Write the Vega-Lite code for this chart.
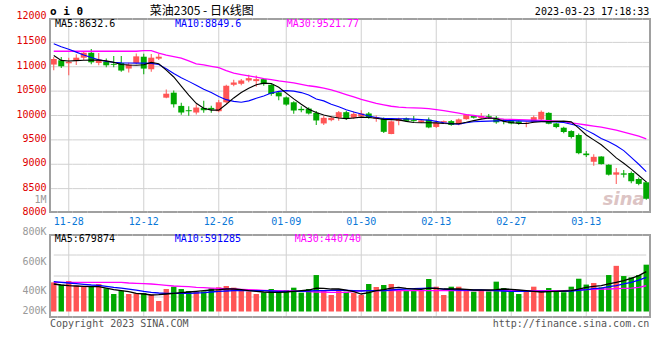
{
"$schema":"https://vega.github.io/schema/vega-lite/v6.json",
"width":600,"height":300,
"autosize":{"type":"none"},
"padding":{"left":50,"top":18,"right":10,"bottom":42},
"background":"white",
"config":{"view":{"stroke":null}},
"data":{"name":"k"},
"datasets":{"k":[
{"d":"2022-11-24","o":11045,"h":11201,"l":10929,"c":11159,"v":498000,"m5":11230,"m10":11470,"m30":11318,"vm5":470000,"vm10":510000,"vm30":498000},
{"d":"2022-11-25","o":11132,"h":11200,"l":10976,"c":11010,"v":458000,"m5":11130,"m10":11410,"m30":11318,"vm5":453000,"vm10":498000,"vm30":498000},
{"d":"2022-11-28","o":11071,"h":11186,"l":10827,"c":11104,"v":521000,"m5":11118,"m10":11360,"m30":11318,"vm5":441000,"vm10":487000,"vm30":498000},
{"d":"2022-11-29","o":11119,"h":11254,"l":11037,"c":11186,"v":441000,"m5":11125,"m10":11300,"m30":11318,"vm5":436000,"vm10":475000,"vm30":498000},
{"d":"2022-11-30","o":11185,"h":11315,"l":11140,"c":11287,"v":424000,"m5":11132,"m10":11240,"m30":11318,"vm5":430000,"vm10":464000,"vm30":498000},
{"d":"2022-12-01","o":11287,"h":11362,"l":11050,"c":11091,"v":436000,"m5":11135,"m10":11190,"m30":11318,"vm5":424000,"vm10":453000,"vm30":498000},
{"d":"2022-12-02","o":11078,"h":11281,"l":11030,"c":11146,"v":470000,"m5":11135,"m10":11145,"m30":11318,"vm5":424000,"vm10":447000,"vm30":498000},
{"d":"2022-12-05","o":11104,"h":11170,"l":10990,"c":11030,"v":396000,"m5":11120,"m10":11110,"m30":11318,"vm5":401000,"vm10":430000,"vm30":498000},
{"d":"2022-12-06","o":11058,"h":11220,"l":10990,"c":11040,"v":299000,"m5":11090,"m10":11091,"m30":11318,"vm5":373000,"vm10":413000,"vm30":498000},
{"d":"2022-12-07","o":11078,"h":11220,"l":10900,"c":10922,"v":356000,"m5":11045,"m10":11080,"m30":11318,"vm5":356000,"vm10":401000,"vm30":498000},
{"d":"2022-12-08","o":10963,"h":11080,"l":10881,"c":11045,"v":299000,"m5":11035,"m10":11077,"m30":11318,"vm5":339000,"vm10":384000,"vm30":487000},
{"d":"2022-12-09","o":11078,"h":11270,"l":11050,"c":11213,"v":310000,"m5":11030,"m10":11075,"m30":11318,"vm5":310000,"vm10":367000,"vm30":481000},
{"d":"2022-12-12","o":11206,"h":11267,"l":10847,"c":10962,"v":316000,"m5":11040,"m10":11075,"m30":11330,"vm5":299000,"vm10":344000,"vm30":475000},
{"d":"2022-12-13","o":10949,"h":11260,"l":10900,"c":11186,"v":288000,"m5":11090,"m10":11070,"m30":11330,"vm5":282000,"vm10":327000,"vm30":470000},
{"d":"2022-12-14","o":11166,"h":11267,"l":11140,"c":11206,"v":179000,"m5":11060,"m10":11045,"m30":11281,"vm5":288000,"vm10":316000,"vm30":458000},
{"d":"2022-12-15","o":10366,"h":10535,"l":10352,"c":10447,"v":384000,"m5":10930,"m10":10960,"m30":11240,"vm5":299000,"vm10":310000,"vm30":447000},
{"d":"2022-12-16","o":10468,"h":10514,"l":10163,"c":10230,"v":424000,"m5":10790,"m10":10860,"m30":11210,"vm5":310000,"vm10":310000,"vm30":436000},
{"d":"2022-12-19","o":10197,"h":10264,"l":10014,"c":10061,"v":384000,"m5":10604,"m10":10773,"m30":11179,"vm5":322000,"vm10":310000,"vm30":430000},
{"d":"2022-12-20","o":10108,"h":10190,"l":9994,"c":10088,"v":350000,"m5":10420,"m10":10700,"m30":11120,"vm5":333000,"vm10":310000,"vm30":424000},
{"d":"2022-12-21","o":10061,"h":10230,"l":10020,"c":10163,"v":339000,"m5":10250,"m10":10620,"m30":11060,"vm5":344000,"vm10":316000,"vm30":413000},
{"d":"2022-12-22","o":10156,"h":10305,"l":10054,"c":10108,"v":344000,"m5":10150,"m10":10540,"m30":11040,"vm5":356000,"vm10":322000,"vm30":407000},
{"d":"2022-12-23","o":10156,"h":10200,"l":10054,"c":10122,"v":396000,"m5":10110,"m10":10470,"m30":11010,"vm5":367000,"vm10":333000,"vm30":401000},
{"d":"2022-12-26","o":10088,"h":10320,"l":10068,"c":10271,"v":413000,"m5":10110,"m10":10390,"m30":10980,"vm5":373000,"vm10":344000,"vm30":396000},
{"d":"2022-12-27","o":10271,"h":10630,"l":10250,"c":10610,"v":436000,"m5":10230,"m10":10325,"m30":10920,"vm5":384000,"vm10":350000,"vm30":390000},
{"d":"2022-12-28","o":10630,"h":10732,"l":10600,"c":10677,"v":407000,"m5":10360,"m10":10290,"m30":10870,"vm5":384000,"vm10":356000,"vm30":384000},
{"d":"2022-12-29","o":10651,"h":10750,"l":10620,"c":10718,"v":356000,"m5":10470,"m10":10271,"m30":10840,"vm5":373000,"vm10":356000,"vm30":379000},
{"d":"2022-12-30","o":10718,"h":10834,"l":10680,"c":10766,"v":344000,"m5":10560,"m10":10300,"m30":10813,"vm5":356000,"vm10":356000,"vm30":373000},
{"d":"2023-01-03","o":10705,"h":10820,"l":10590,"c":10746,"v":299000,"m5":10630,"m10":10352,"m30":10785,"vm5":344000,"vm10":356000,"vm30":367000},
{"d":"2023-01-04","o":10746,"h":10760,"l":10610,"c":10644,"v":327000,"m5":10664,"m10":10400,"m30":10755,"vm5":333000,"vm10":356000,"vm30":362000},
{"d":"2023-01-05","o":10630,"h":10650,"l":10407,"c":10441,"v":384000,"m5":10655,"m10":10460,"m30":10735,"vm5":327000,"vm10":350000,"vm30":356000},
{"d":"2023-01-06","o":10474,"h":10500,"l":10311,"c":10393,"v":344000,"m5":10580,"m10":10495,"m30":10710,"vm5":327000,"vm10":344000,"vm30":356000},
{"d":"2023-01-09","o":10372,"h":10390,"l":10200,"c":10224,"v":367000,"m5":10460,"m10":10510,"m30":10690,"vm5":333000,"vm10":344000,"vm30":350000},
{"d":"2023-01-10","o":10271,"h":10290,"l":10034,"c":10102,"v":407000,"m5":10340,"m10":10500,"m30":10670,"vm5":344000,"vm10":344000,"vm30":350000},
{"d":"2023-01-11","o":10136,"h":10190,"l":10068,"c":10108,"v":322000,"m5":10230,"m10":10470,"m30":10640,"vm5":356000,"vm10":344000,"vm30":344000},
{"d":"2023-01-12","o":10142,"h":10170,"l":10020,"c":10041,"v":384000,"m5":10130,"m10":10420,"m30":10610,"vm5":367000,"vm10":350000,"vm30":339000},
{"d":"2023-01-13","o":10054,"h":10090,"l":9803,"c":9898,"v":623000,"m5":10060,"m10":10340,"m30":10590,"vm5":401000,"vm10":356000,"vm30":333000},
{"d":"2023-01-16","o":9837,"h":9990,"l":9803,"c":9952,"v":356000,"m5":10010,"m10":10300,"m30":10563,"vm5":396000,"vm10":356000,"vm30":333000},
{"d":"2023-01-17","o":9905,"h":9990,"l":9880,"c":9952,"v":282000,"m5":9975,"m10":10230,"m30":10525,"vm5":384000,"vm10":362000,"vm30":327000},
{"d":"2023-01-18","o":9952,"h":10090,"l":9890,"c":10068,"v":356000,"m5":9950,"m10":10180,"m30":10480,"vm5":384000,"vm10":367000,"vm30":327000},
{"d":"2023-01-19","o":10068,"h":10100,"l":9910,"c":9932,"v":339000,"m5":9935,"m10":10120,"m30":10430,"vm5":367000,"vm10":362000,"vm30":327000},
{"d":"2023-01-20","o":9953,"h":10080,"l":9930,"c":10034,"v":316000,"m5":9950,"m10":10070,"m30":10380,"vm5":339000,"vm10":356000,"vm30":339000},
{"d":"2023-01-30","o":9980,"h":10108,"l":9950,"c":10041,"v":282000,"m5":9966,"m10":10030,"m30":10330,"vm5":299000,"vm10":350000,"vm30":356000},
{"d":"2023-01-31","o":10041,"h":10070,"l":9935,"c":9953,"v":470000,"m5":9960,"m10":9990,"m30":10290,"vm5":322000,"vm10":356000,"vm30":356000},
{"d":"2023-02-01","o":9932,"h":10000,"l":9870,"c":9966,"v":419000,"m5":9945,"m10":9960,"m30":10250,"vm5":356000,"vm10":356000,"vm30":356000},
{"d":"2023-02-02","o":9940,"h":9960,"l":9640,"c":9665,"v":453000,"m5":9920,"m10":9940,"m30":10220,"vm5":373000,"vm10":356000,"vm30":356000},
{"d":"2023-02-03","o":9620,"h":9895,"l":9615,"c":9880,"v":470000,"m5":9915,"m10":9935,"m30":10190,"vm5":401000,"vm10":367000,"vm30":356000},
{"d":"2023-02-06","o":9885,"h":9955,"l":9800,"c":9932,"v":384000,"m5":9910,"m10":9932,"m30":10170,"vm5":413000,"vm10":379000,"vm30":356000},
{"d":"2023-02-07","o":9940,"h":9960,"l":9870,"c":9890,"v":367000,"m5":9880,"m10":9930,"m30":10160,"vm5":396000,"vm10":384000,"vm30":356000},
{"d":"2023-02-08","o":9905,"h":9990,"l":9870,"c":9885,"v":367000,"m5":9855,"m10":9925,"m30":10156,"vm5":384000,"vm10":390000,"vm30":356000},
{"d":"2023-02-09","o":9860,"h":9920,"l":9845,"c":9900,"v":356000,"m5":9851,"m10":9915,"m30":10150,"vm5":379000,"vm10":396000,"vm30":356000},
{"d":"2023-02-10","o":9915,"h":9960,"l":9740,"c":9755,"v":555000,"m5":9851,"m10":9905,"m30":10140,"vm5":401000,"vm10":401000,"vm30":356000},
{"d":"2023-02-13","o":9765,"h":9900,"l":9745,"c":9850,"v":424000,"m5":9848,"m10":9880,"m30":10120,"vm5":396000,"vm10":396000,"vm30":356000},
{"d":"2023-02-14","o":9855,"h":9900,"l":9840,"c":9885,"v":282000,"m5":9835,"m10":9850,"m30":10100,"vm5":384000,"vm10":384000,"vm30":356000},
{"d":"2023-02-15","o":9885,"h":9910,"l":9790,"c":9805,"v":424000,"m5":9831,"m10":9830,"m30":10075,"vm5":384000,"vm10":373000,"vm30":356000},
{"d":"2023-02-16","o":9820,"h":9940,"l":9800,"c":9920,"v":424000,"m5":9831,"m10":9820,"m30":10050,"vm5":384000,"vm10":367000,"vm30":356000},
{"d":"2023-02-17","o":9925,"h":10030,"l":9915,"c":10020,"v":367000,"m5":9860,"m10":9850,"m30":10020,"vm5":379000,"vm10":367000,"vm30":356000},
{"d":"2023-02-20","o":9990,"h":10000,"l":9940,"c":9955,"v":339000,"m5":9895,"m10":9871,"m30":10000,"vm5":367000,"vm10":367000,"vm30":356000},
{"d":"2023-02-21","o":9945,"h":10050,"l":9930,"c":9990,"v":356000,"m5":9925,"m10":9880,"m30":9975,"vm5":367000,"vm10":367000,"vm30":356000},
{"d":"2023-02-22","o":9985,"h":10030,"l":9930,"c":9950,"v":344000,"m5":9950,"m10":9885,"m30":9953,"vm5":367000,"vm10":362000,"vm30":356000},
{"d":"2023-02-23","o":9955,"h":9990,"l":9830,"c":9860,"v":510000,"m5":9940,"m10":9890,"m30":9935,"vm5":373000,"vm10":356000,"vm30":356000},
{"d":"2023-02-24","o":9920,"h":9930,"l":9820,"c":9890,"v":401000,"m5":9880,"m10":9895,"m30":9925,"vm5":384000,"vm10":350000,"vm30":356000},
{"d":"2023-02-27","o":9890,"h":9910,"l":9820,"c":9835,"v":384000,"m5":9855,"m10":9895,"m30":9920,"vm5":379000,"vm10":344000,"vm30":356000},
{"d":"2023-02-28","o":9880,"h":9895,"l":9810,"c":9840,"v":299000,"m5":9835,"m10":9890,"m30":9915,"vm5":367000,"vm10":344000,"vm30":356000},
{"d":"2023-03-01","o":9825,"h":9870,"l":9760,"c":9850,"v":367000,"m5":9835,"m10":9885,"m30":9910,"vm5":356000,"vm10":344000,"vm30":356000},
{"d":"2023-03-02","o":9864,"h":10000,"l":9850,"c":9966,"v":424000,"m5":9860,"m10":9885,"m30":9905,"vm5":344000,"vm10":344000,"vm30":356000},
{"d":"2023-03-03","o":9919,"h":10105,"l":9905,"c":10075,"v":356000,"m5":9871,"m10":9880,"m30":9900,"vm5":333000,"vm10":344000,"vm30":356000},
{"d":"2023-03-06","o":10054,"h":10065,"l":9820,"c":9830,"v":401000,"m5":9875,"m10":9875,"m30":9895,"vm5":339000,"vm10":344000,"vm30":356000},
{"d":"2023-03-07","o":9837,"h":9850,"l":9740,"c":9763,"v":344000,"m5":9880,"m10":9870,"m30":9885,"vm5":344000,"vm10":344000,"vm30":356000},
{"d":"2023-03-08","o":9749,"h":9770,"l":9635,"c":9661,"v":327000,"m5":9885,"m10":9855,"m30":9871,"vm5":350000,"vm10":344000,"vm30":356000},
{"d":"2023-03-09","o":9681,"h":9695,"l":9530,"c":9559,"v":424000,"m5":9870,"m10":9820,"m30":9850,"vm5":356000,"vm10":350000,"vm30":362000},
{"d":"2023-03-10","o":9600,"h":9630,"l":9205,"c":9227,"v":560000,"m5":9740,"m10":9785,"m30":9830,"vm5":384000,"vm10":362000,"vm30":367000},
{"d":"2023-03-13","o":9220,"h":9270,"l":9150,"c":9186,"v":460000,"m5":9600,"m10":9700,"m30":9805,"vm5":413000,"vm10":373000,"vm30":373000},
{"d":"2023-03-14","o":9051,"h":9207,"l":8969,"c":9152,"v":487000,"m5":9500,"m10":9620,"m30":9783,"vm5":430000,"vm10":390000,"vm30":379000},
{"d":"2023-03-15","o":9159,"h":9165,"l":8995,"c":9003,"v":413000,"m5":9400,"m10":9530,"m30":9760,"vm5":441000,"vm10":401000,"vm30":384000},
{"d":"2023-03-16","o":8990,"h":9000,"l":8770,"c":8786,"v":623000,"m5":9270,"m10":9460,"m30":9730,"vm5":470000,"vm10":424000,"vm30":384000},
{"d":"2023-03-17","o":8786,"h":8922,"l":8597,"c":8834,"v":780000,"m5":9130,"m10":9380,"m30":9700,"vm5":498000,"vm10":441000,"vm30":390000},
{"d":"2023-03-20","o":8813,"h":8880,"l":8730,"c":8786,"v":606000,"m5":9020,"m10":9280,"m30":9660,"vm5":527000,"vm10":470000,"vm30":396000},
{"d":"2023-03-21","o":8820,"h":8850,"l":8610,"c":8651,"v":584000,"m5":8900,"m10":9140,"m30":9620,"vm5":567000,"vm10":498000,"vm30":401000},
{"d":"2023-03-22","o":8698,"h":8730,"l":8570,"c":8597,"v":623000,"m5":8770,"m10":9000,"m30":9575,"vm5":612000,"vm10":538000,"vm30":413000},
{"d":"2023-03-23","o":8630,"h":8650,"l":8270,"c":8292,"v":800000,"m5":8640,"m10":8850,"m30":9522,"vm5":680000,"vm10":584000,"vm30":440000}
]},
"resolve":{"scale":{"y":"independent"},"axis":{"x":"independent","y":"independent"}},
"layer":[
{"data":{"values":[{"t":"sina"}]},
 "mark":{"type":"text","font":"DejaVu Sans","fontSize":18,"fontStyle":"italic","fontWeight":"bold","color":"#dcc4c4","align":"center","baseline":"middle"},
 "encoding":{"text":{"field":"t"},"x":{"datum":"2023-03-20","type":"ordinal","axis":null},
  "y":{"datum":8267,"type":"quantitative","scale":{"domain":[8000,12000],"range":[195,0],"nice":false,"zero":false},"axis":null}}},
{"mark":{"type":"bar","color":"#d0d0d0","width":{"band":1}},"encoding":{"x":{"field":"d","type":"ordinal","axis":null},"y":{"datum":8490,"type":"quantitative","scale":{"domain":[8000,12000],"range":[195,0],"nice":false,"zero":false},"axis":null},"y2":{"datum":8510}}},
{"mark":{"type":"bar","color":"#d0d0d0","width":{"band":1}},"encoding":{"x":{"field":"d","type":"ordinal","axis":null},"y":{"datum":8990,"type":"quantitative","scale":{"domain":[8000,12000],"range":[195,0],"nice":false,"zero":false},"axis":null},"y2":{"datum":9010}}},
{"mark":{"type":"bar","color":"#d0d0d0","width":{"band":1}},"encoding":{"x":{"field":"d","type":"ordinal","axis":null},"y":{"datum":9490,"type":"quantitative","scale":{"domain":[8000,12000],"range":[195,0],"nice":false,"zero":false},"axis":null},"y2":{"datum":9510}}},
{"mark":{"type":"bar","color":"#d0d0d0","width":{"band":1}},"encoding":{"x":{"field":"d","type":"ordinal","axis":null},"y":{"datum":9990,"type":"quantitative","scale":{"domain":[8000,12000],"range":[195,0],"nice":false,"zero":false},"axis":null},"y2":{"datum":10010}}},
{"mark":{"type":"bar","color":"#d0d0d0","width":{"band":1}},"encoding":{"x":{"field":"d","type":"ordinal","axis":null},"y":{"datum":10490,"type":"quantitative","scale":{"domain":[8000,12000],"range":[195,0],"nice":false,"zero":false},"axis":null},"y2":{"datum":10510}}},
{"mark":{"type":"bar","color":"#d0d0d0","width":{"band":1}},"encoding":{"x":{"field":"d","type":"ordinal","axis":null},"y":{"datum":10990,"type":"quantitative","scale":{"domain":[8000,12000],"range":[195,0],"nice":false,"zero":false},"axis":null},"y2":{"datum":11010}}},
{"mark":{"type":"bar","color":"#d0d0d0","width":{"band":1}},"encoding":{"x":{"field":"d","type":"ordinal","axis":null},"y":{"datum":11490,"type":"quantitative","scale":{"domain":[8000,12000],"range":[195,0],"nice":false,"zero":false},"axis":null},"y2":{"datum":11510}}},
{"mark":{"type":"line","color":"#d0d0d0","strokeWidth":1},"encoding":{"x":{"field":"d","type":"ordinal","axis":null},"y":{"datum":965250,"type":"quantitative","scale":{"domain":[-111000,1324000],"range":[300,216],"nice":false,"zero":false},"axis":null}}},
{"mark":{"type":"line","color":"#d0d0d0","strokeWidth":1},"encoding":{"x":{"field":"d","type":"ordinal","axis":null},"y":{"datum":606500,"type":"quantitative","scale":{"domain":[-111000,1324000],"range":[300,216],"nice":false,"zero":false},"axis":null}}},
{"mark":{"type":"line","color":"#d0d0d0","strokeWidth":1},"encoding":{"x":{"field":"d","type":"ordinal","axis":null},"y":{"datum":247750,"type":"quantitative","scale":{"domain":[-111000,1324000],"range":[300,216],"nice":false,"zero":false},"axis":null}}},
{"transform":[{"filter":{"field":"d","oneOf":["2022-11-28","2022-12-12","2022-12-26","2023-01-09","2023-01-30","2023-02-13","2023-02-27","2023-03-13"]}}],
 "mark":{"type":"bar","color":"#d0d0d0","width":1},
 "encoding":{"x":{"field":"d","type":"ordinal","axis":null},"y":{"datum":8000,"type":"quantitative","scale":{"domain":[8000,12000],"range":[195,0],"nice":false,"zero":false},"axis":null},"y2":{"datum":12000}}},
{"transform":[{"filter":{"field":"d","oneOf":["2022-11-28","2022-12-12","2022-12-26","2023-01-09","2023-01-30","2023-02-13","2023-02-27","2023-03-13"]}}],
 "mark":{"type":"bar","color":"#d0d0d0","width":1},
 "encoding":{"x":{"field":"d","type":"ordinal","axis":null},"y":{"datum":-111000,"type":"quantitative","scale":{"domain":[-111000,1324000],"range":[300,216],"nice":false,"zero":false},"axis":null},"y2":{"datum":1324000}}},
{"mark":{"type":"bar","width":1},
 "encoding":{
  "x":{"field":"d","type":"ordinal",
   "scale":{"domain":["2022-11-24","2022-11-25","2022-11-28","2022-11-29","2022-11-30","2022-12-01","2022-12-02","2022-12-05","2022-12-06","2022-12-07","2022-12-08","2022-12-09","2022-12-12","2022-12-13","2022-12-14","2022-12-15","2022-12-16","2022-12-19","2022-12-20","2022-12-21","2022-12-22","2022-12-23","2022-12-26","2022-12-27","2022-12-28","2022-12-29","2022-12-30","2023-01-03","2023-01-04","2023-01-05","2023-01-06","2023-01-09","2023-01-10","2023-01-11","2023-01-12","2023-01-13","2023-01-16","2023-01-17","2023-01-18","2023-01-19","2023-01-20","2023-01-30","2023-01-31","2023-02-01","2023-02-02","2023-02-03","2023-02-06","2023-02-07","2023-02-08","2023-02-09","2023-02-10","2023-02-13","2023-02-14","2023-02-15","2023-02-16","2023-02-17","2023-02-20","2023-02-21","2023-02-22","2023-02-23","2023-02-24","2023-02-27","2023-02-28","2023-03-01","2023-03-02","2023-03-03","2023-03-06","2023-03-07","2023-03-08","2023-03-09","2023-03-10","2023-03-13","2023-03-14","2023-03-15","2023-03-16","2023-03-17","2023-03-20","2023-03-21","2023-03-22","2023-03-23"],"paddingInner":0,"paddingOuter":0},
   "axis":{"orient":"bottom","offset":-105,"values":["2022-11-28","2022-12-12","2022-12-26","2023-01-09","2023-01-30","2023-02-13","2023-02-27","2023-03-13"],"labelExpr":"substring(datum.value, 5)","grid":false,"ticks":false,"domain":false,"labelColor":"#0a78d8","labelFont":"DejaVu Sans Mono","labelFontSize":10,"labelPadding":3,"labelAngle":0,"title":null}},
  "y":{"field":"l","type":"quantitative",
   "scale":{"domain":[8000,12000],"range":[195,0],"nice":false,"zero":false},
   "axis":{"orient":"left","values":[8000,8252,8500,9000,9500,10000,10500,11000,11500,12000],"format":"d","labelExpr":"datum.value == 8252 ? '1M' : datum.label",
    "labelColor":{"condition":{"test":"datum.value == 8252","value":"#999999"},"value":"#e00000"},
    "labelOffset":{"condition":{"test":"datum.value == 12000","value":-3},"value":-1.5},
    "labelFont":"DejaVu Sans Mono","labelFontSize":10,"labelPadding":4,"labelFlush":false,"labelOverlap":false,"labelBound":false,
    "ticks":false,"domain":false,"grid":false,"title":null}},
  "y2":{"field":"h"},
  "color":{"condition":{"test":"datum.c >= datum.o","value":"#ff5555"},"value":"#00a800"}}},
{"mark":{"type":"bar","width":{"band":0.8}},
 "encoding":{
  "x":{"field":"d","type":"ordinal","axis":null},
  "y":{"field":"o","type":"quantitative","scale":{"domain":[8000,12000],"range":[195,0],"nice":false,"zero":false},"axis":null},
  "y2":{"field":"c"},
  "color":{"condition":{"test":"datum.c >= datum.o","value":"#ff5555"},"value":"#00a800"}}},
{"mark":{"type":"bar","width":{"band":0.72}},
 "encoding":{
  "x":{"field":"d","type":"ordinal","axis":null},
  "y":{"field":"v","type":"quantitative",
   "scale":{"domain":[-111000,1324000],"range":[300,216],"nice":false,"zero":false},
   "axis":{"orient":"left","values":[1324000,862750,355400,13700],
    "labelExpr":"datum.value > 1000000 ? '800K' : datum.value > 600000 ? '600K' : datum.value > 100000 ? '400K' : '200K'",
    "labelOffset":{"condition":{"test":"datum.value > 1000000","value":-3},"value":0},
    "labelColor":"#999999","labelFont":"DejaVu Sans Mono","labelFontSize":10,"labelPadding":4,"labelFlush":false,"labelOverlap":false,"labelBound":false,
    "ticks":false,"grid":false,"domain":false,"title":null}},
  "y2":{"datum":0},
  "color":{"condition":{"test":"datum.c >= datum.o","value":"#ff5555"},"value":"#00a800"}}},
{"mark":{"type":"line","color":"#ff00ff","strokeWidth":1.3},
 "encoding":{"x":{"field":"d","type":"ordinal","axis":null},"y":{"field":"m30","type":"quantitative","scale":{"domain":[8000,12000],"range":[195,0],"nice":false,"zero":false},"axis":null}}},
{"mark":{"type":"line","color":"#0000ff","strokeWidth":1.1},
 "encoding":{"x":{"field":"d","type":"ordinal","axis":null},"y":{"field":"m10","type":"quantitative","scale":{"domain":[8000,12000],"range":[195,0],"nice":false,"zero":false},"axis":null}}},
{"mark":{"type":"line","color":"#000000","strokeWidth":1.1},
 "encoding":{"x":{"field":"d","type":"ordinal","axis":null},"y":{"field":"m5","type":"quantitative","scale":{"domain":[8000,12000],"range":[195,0],"nice":false,"zero":false},"axis":null}}},
{"mark":{"type":"line","color":"#ff00ff","strokeWidth":1.3},
 "encoding":{"x":{"field":"d","type":"ordinal","axis":null},"y":{"field":"vm30","type":"quantitative","scale":{"domain":[-111000,1324000],"range":[300,216],"nice":false,"zero":false},"axis":null}}},
{"mark":{"type":"line","color":"#0000ff","strokeWidth":1.3},
 "encoding":{"x":{"field":"d","type":"ordinal","axis":null},"y":{"field":"vm10","type":"quantitative","scale":{"domain":[-111000,1324000],"range":[300,216],"nice":false,"zero":false},"axis":null}}},
{"mark":{"type":"line","color":"#000000","strokeWidth":1.3},
 "encoding":{"x":{"field":"d","type":"ordinal","axis":null},"y":{"field":"vm5","type":"quantitative","scale":{"domain":[-111000,1324000],"range":[300,216],"nice":false,"zero":false},"axis":null}}},
{"mark":{"type":"bar","color":"#a0a0a0","width":{"band":1}},"encoding":{"x":{"field":"d","type":"ordinal","axis":null},"y":{"datum":12000,"type":"quantitative","scale":{"domain":[8000,12000],"range":[195,0],"nice":false,"zero":false},"axis":null},"y2":{"datum":11959}}},
{"mark":{"type":"bar","color":"#a0a0a0","width":{"band":1}},"encoding":{"x":{"field":"d","type":"ordinal","axis":null},"y":{"datum":8000,"type":"quantitative","scale":{"domain":[8000,12000],"range":[195,0],"nice":false,"zero":false},"axis":null},"y2":{"datum":8041}}},
{"mark":{"type":"bar","color":"#a0a0a0","width":{"band":1}},"encoding":{"x":{"field":"d","type":"ordinal","axis":null},"y":{"datum":1324000,"type":"quantitative","scale":{"domain":[-111000,1324000],"range":[300,216],"nice":false,"zero":false},"axis":null},"y2":{"datum":1289800}}},
{"mark":{"type":"bar","color":"#a0a0a0","width":{"band":1}},"encoding":{"x":{"field":"d","type":"ordinal","axis":null},"y":{"datum":-111000,"type":"quantitative","scale":{"domain":[-111000,1324000],"range":[300,216],"nice":false,"zero":false},"axis":null},"y2":{"datum":-76800}}},
{"transform":[{"filter":{"field":"d","equal":"2022-11-24"}}],
 "mark":{"type":"bar","color":"#a0a0a0","width":2,"xOffset":-3.75},
 "encoding":{"x":{"field":"d","type":"ordinal","axis":null},"y":{"datum":8000,"type":"quantitative","scale":{"domain":[8000,12000],"range":[195,0],"nice":false,"zero":false},"axis":null},"y2":{"datum":12000}}},
{"transform":[{"filter":{"field":"d","equal":"2023-03-23"}}],
 "mark":{"type":"bar","color":"#a0a0a0","width":2,"xOffset":3.75},
 "encoding":{"x":{"field":"d","type":"ordinal","axis":null},"y":{"datum":8000,"type":"quantitative","scale":{"domain":[8000,12000],"range":[195,0],"nice":false,"zero":false},"axis":null},"y2":{"datum":12000}}},
{"transform":[{"filter":{"field":"d","equal":"2022-11-24"}}],
 "mark":{"type":"bar","color":"#a0a0a0","width":2,"xOffset":-3.75},
 "encoding":{"x":{"field":"d","type":"ordinal","axis":null},"y":{"datum":-111000,"type":"quantitative","scale":{"domain":[-111000,1324000],"range":[300,216],"nice":false,"zero":false},"axis":null},"y2":{"datum":1324000}}},
{"transform":[{"filter":{"field":"d","equal":"2023-03-23"}}],
 "mark":{"type":"bar","color":"#a0a0a0","width":2,"xOffset":3.75},
 "encoding":{"x":{"field":"d","type":"ordinal","axis":null},"y":{"datum":-111000,"type":"quantitative","scale":{"domain":[-111000,1324000],"range":[300,216],"nice":false,"zero":false},"axis":null},"y2":{"datum":1324000}}},
{"data":{"values":[{"t":"o i 0"}]},
 "mark":{"type":"text","font":"DejaVu Sans Mono","fontSize":11,"fontWeight":"bold","color":"#000000","align":"left","baseline":"middle","dx":-3.75},
 "encoding":{"text":{"field":"t"},"x":{"datum":"2022-11-24","type":"ordinal","axis":null},"y":{"datum":12133,"type":"quantitative","scale":{"domain":[8000,12000],"range":[195,0],"nice":false,"zero":false},"axis":null}}},
{"data":{"values":[{"t":"菜油2305 - 日K线图"}]},
 "mark":{"type":"text","font":"Noto Sans CJK SC","fontSize":12,"color":"#000000","align":"center","baseline":"middle","dx":-2,"dy":-1},
 "encoding":{"text":{"field":"t"},"x":{"datum":"2022-12-22","type":"ordinal","axis":null},"y":{"datum":12133,"type":"quantitative","scale":{"domain":[8000,12000],"range":[195,0],"nice":false,"zero":false},"axis":null}}},
{"data":{"values":[{"t":"2023-03-23 17:18:33"}]},
 "mark":{"type":"text","font":"DejaVu Sans Mono","fontSize":10,"color":"#000000","align":"right","baseline":"middle","dx":3},
 "encoding":{"text":{"field":"t"},"x":{"datum":"2023-03-23","type":"ordinal","axis":null},"y":{"datum":12133,"type":"quantitative","scale":{"domain":[8000,12000],"range":[195,0],"nice":false,"zero":false},"axis":null}}},
{"data":{"values":[{"t":"MA5:8632.6"}]},
 "mark":{"type":"text","font":"DejaVu Sans Mono","fontSize":10,"color":"#000000","align":"left","baseline":"middle","dx":1.25},
 "encoding":{"text":{"field":"t"},"x":{"datum":"2022-11-24","type":"ordinal","axis":null},"y":{"datum":11875,"type":"quantitative","scale":{"domain":[8000,12000],"range":[195,0],"nice":false,"zero":false},"axis":null}}},
{"data":{"values":[{"t":"MA10:8849.6"}]},
 "mark":{"type":"text","font":"DejaVu Sans Mono","fontSize":10,"color":"#0000ff","align":"left","baseline":"middle","dx":1.25},
 "encoding":{"text":{"field":"t"},"x":{"datum":"2022-12-16","type":"ordinal","axis":null},"y":{"datum":11875,"type":"quantitative","scale":{"domain":[8000,12000],"range":[195,0],"nice":false,"zero":false},"axis":null}}},
{"data":{"values":[{"t":"MA30:9521.77"}]},
 "mark":{"type":"text","font":"DejaVu Sans Mono","fontSize":10,"color":"#ff00ff","align":"left","baseline":"middle","dx":0.5},
 "encoding":{"text":{"field":"t"},"x":{"datum":"2023-01-09","type":"ordinal","axis":null},"y":{"datum":11875,"type":"quantitative","scale":{"domain":[8000,12000],"range":[195,0],"nice":false,"zero":false},"axis":null}}},
{"data":{"values":[{"t":"MA5:679874"}]},
 "mark":{"type":"text","font":"DejaVu Sans Mono","fontSize":10,"color":"#000000","align":"left","baseline":"middle","dx":1},
 "encoding":{"text":{"field":"t"},"x":{"datum":"2022-11-24","type":"ordinal","axis":null},"y":{"datum":1247000,"type":"quantitative","scale":{"domain":[-111000,1324000],"range":[300,216],"nice":false,"zero":false},"axis":null}}},
{"data":{"values":[{"t":"MA10:591285"}]},
 "mark":{"type":"text","font":"DejaVu Sans Mono","fontSize":10,"color":"#0000ff","align":"left","baseline":"middle","dx":1},
 "encoding":{"text":{"field":"t"},"x":{"datum":"2022-12-16","type":"ordinal","axis":null},"y":{"datum":1247000,"type":"quantitative","scale":{"domain":[-111000,1324000],"range":[300,216],"nice":false,"zero":false},"axis":null}}},
{"data":{"values":[{"t":"MA30:440740"}]},
 "mark":{"type":"text","font":"DejaVu Sans Mono","fontSize":10,"color":"#ff00ff","align":"left","baseline":"middle","dx":1},
 "encoding":{"text":{"field":"t"},"x":{"datum":"2023-01-10","type":"ordinal","axis":null},"y":{"datum":1247000,"type":"quantitative","scale":{"domain":[-111000,1324000],"range":[300,216],"nice":false,"zero":false},"axis":null}}},
{"data":{"values":[{"t":"Copyright 2023 SINA.COM"}]},
 "mark":{"type":"text","font":"DejaVu Sans Mono","fontSize":10,"color":"#555555","align":"left","baseline":"middle","dx":-3.75},
 "encoding":{"text":{"field":"t"},"x":{"datum":"2022-11-24","type":"ordinal","axis":null},"y":{"datum":-205000,"type":"quantitative","scale":{"domain":[-111000,1324000],"range":[300,216],"nice":false,"zero":false},"axis":null}}},
{"data":{"values":[{"t":"http://finance.sina.com.cn"}]},
 "mark":{"type":"text","font":"DejaVu Sans Mono","fontSize":10,"color":"#555555","align":"right","baseline":"middle","dx":3},
 "encoding":{"text":{"field":"t"},"x":{"datum":"2023-03-23","type":"ordinal","axis":null},"y":{"datum":-205000,"type":"quantitative","scale":{"domain":[-111000,1324000],"range":[300,216],"nice":false,"zero":false},"axis":null}}}
]
}
